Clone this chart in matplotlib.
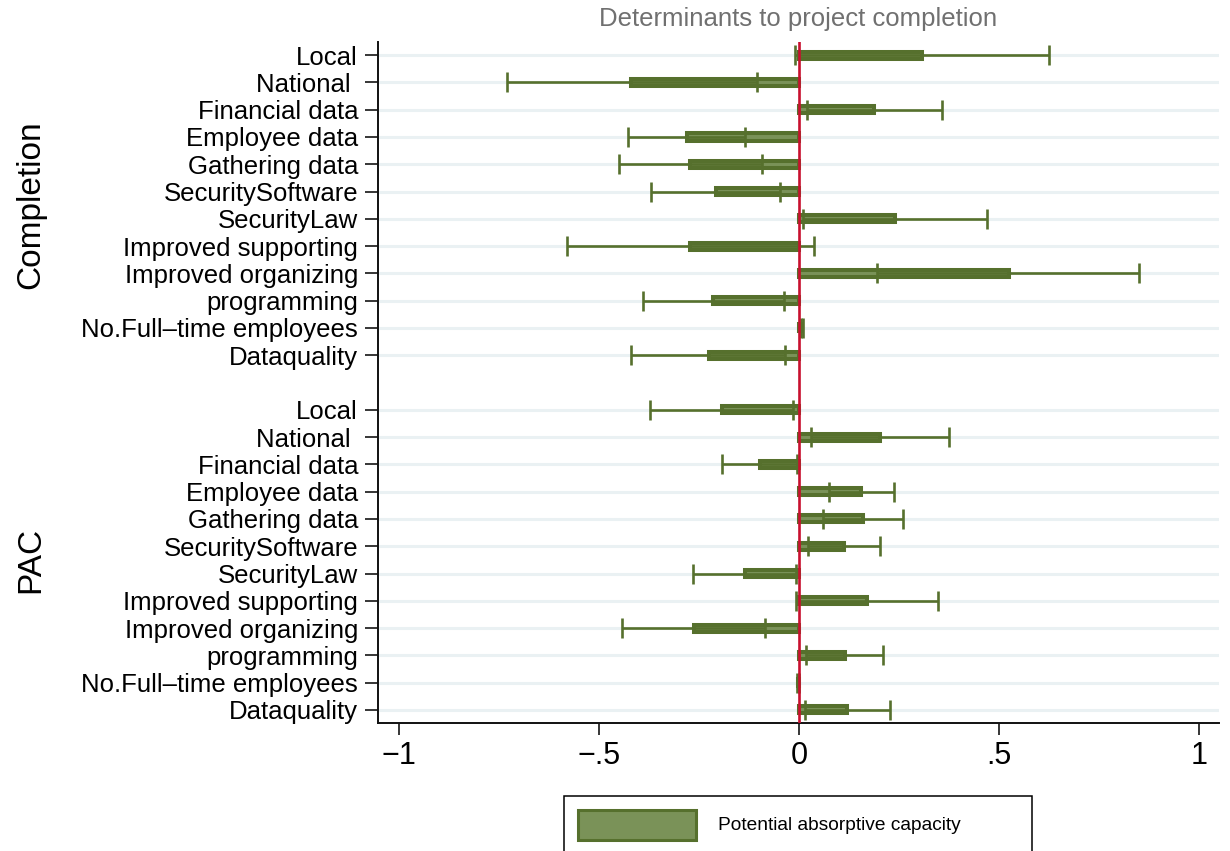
import matplotlib
matplotlib.use("Agg")
import matplotlib.pyplot as plt
import matplotlib.transforms as mtransforms
from matplotlib.patches import Rectangle
import numpy as np

plt.rcParams['font.family'] = ['Liberation Sans', 'DejaVu Sans']

# ---------------- data ----------------
categories = ["Local", "National ", "Financial data", "Employee data", "Gathering data",
              "SecuritySoftware", "SecurityLaw", "Improved supporting", "Improved organizing",
              "programming", "No.Full\u2013time employees", "Dataquality"]
groups = ["Completion", "PAC"]

completion_est = [0.308, -0.419, 0.188, -0.281, -0.272, -0.208, 0.241, -0.272, 0.524, -0.214, 0.007, -0.226]
completion_lo = [-0.009, -0.730, 0.019, -0.428, -0.451, -0.369, 0.011, -0.581, 0.196, -0.391, 0.005, -0.420]
completion_hi = [0.626, -0.106, 0.358, -0.136, -0.092, -0.048, 0.470, 0.037, 0.851, -0.038, 0.009, -0.035]

pac_est = [-0.193, 0.203, -0.098, 0.156, 0.161, 0.113, -0.136, 0.170, -0.263, 0.114, -0.002, 0.121]
pac_lo = [-0.372, 0.031, -0.193, 0.074, 0.060, 0.022, -0.264, -0.007, -0.442, 0.017, -0.004, 0.015]
pac_hi = [-0.016, 0.375, -0.004, 0.237, 0.260, 0.202, -0.008, 0.348, -0.086, 0.211, -0.001, 0.227]

xticks = [-1, -0.5, 0, 0.5, 1]
xtick_labels = ["\u22121", "\u2212.5", "0", ".5", "1"]

title = "Determinants to project completion"
legend_label = "Potential absorptive capacity"

# ---------------- style ----------------
dark = "#56702D"
light = "#7A9258"
grid_c = "#EAF1F3"
red = "#C8102E"

fig = plt.figure(figsize=(12.30, 8.51), dpi=100)
ax = fig.add_axes([378/1230, (851-722.5)/851, (1219-378)/1230, (722.5-42)/851])

n = len(categories)
y_comp = np.arange(1, n + 1)
y_pac = np.arange(n + 2, 2 * n + 2)
y_all = np.concatenate([y_comp, y_pac])

est = np.array(completion_est + pac_est)
lo = np.array(completion_lo + pac_lo)
hi = np.array(completion_hi + pac_hi)

for yy in y_all:
    ax.axhline(yy, color=grid_c, lw=2.2, zorder=0)

ax.barh(y_all, est, height=0.26, color=light, edgecolor=dark, linewidth=2.9, zorder=2)
ax.errorbar(est, y_all, xerr=[est - lo, hi - est], fmt='none', ecolor=dark,
            elinewidth=1.9, capsize=7.2, capthick=1.9, zorder=3)
ax.axvline(0, color=red, lw=1.9, zorder=5)

ax.set_xlim(-1.0525, 1.05)
ax.set_ylim(25.46, 0.52)

ax.set_yticks(y_all)
ax.set_yticklabels(categories + categories, fontsize=18.5)
ax.set_xticks(xticks)
ax.set_xticklabels(xtick_labels, fontsize=22)

ax.tick_params(axis='y', length=9.4, width=1.1, pad=5, colors='black')
ax.tick_params(axis='x', length=8.6, width=1.1, pad=5, colors='black')
for s in ['top', 'right']:
    ax.spines[s].set_visible(False)
for s in ['left', 'bottom']:
    ax.spines[s].set_linewidth(1.4)
    ax.spines[s].set_color('#111111')

# group labels
trans = mtransforms.blended_transform_factory(fig.transFigure, ax.transData)
ax.text(31/1230, y_comp.mean(), groups[0], rotation=90, fontsize=24,
        ha='center', va='center', transform=trans)
ax.text(31/1230, y_pac.mean(), groups[1], rotation=90, fontsize=24,
        ha='center', va='center', transform=trans)

# title
fig.text(798/1230, 1 - 19/851, title, fontsize=18.5, color='#707070', ha='center', va='center')

# legend (manual box, clipped at the bottom like the reference)
box = Rectangle((564/1230, -0.05), (1032-564)/1230, 0.05 + (851-796)/851,
                transform=fig.transFigure, facecolor='white', edgecolor='black',
                linewidth=1.1, clip_on=False)
fig.patches.append(box)
patch = Rectangle((578/1230, (851-840)/851), (696-578)/1230, 30/851,
                  transform=fig.transFigure, facecolor=light, edgecolor=dark, linewidth=2.2)
fig.patches.append(patch)
fig.text(718/1230, (851-826)/851, legend_label, fontsize=13.75, ha='left', va='center')

fig.savefig("out.png", dpi=100)
